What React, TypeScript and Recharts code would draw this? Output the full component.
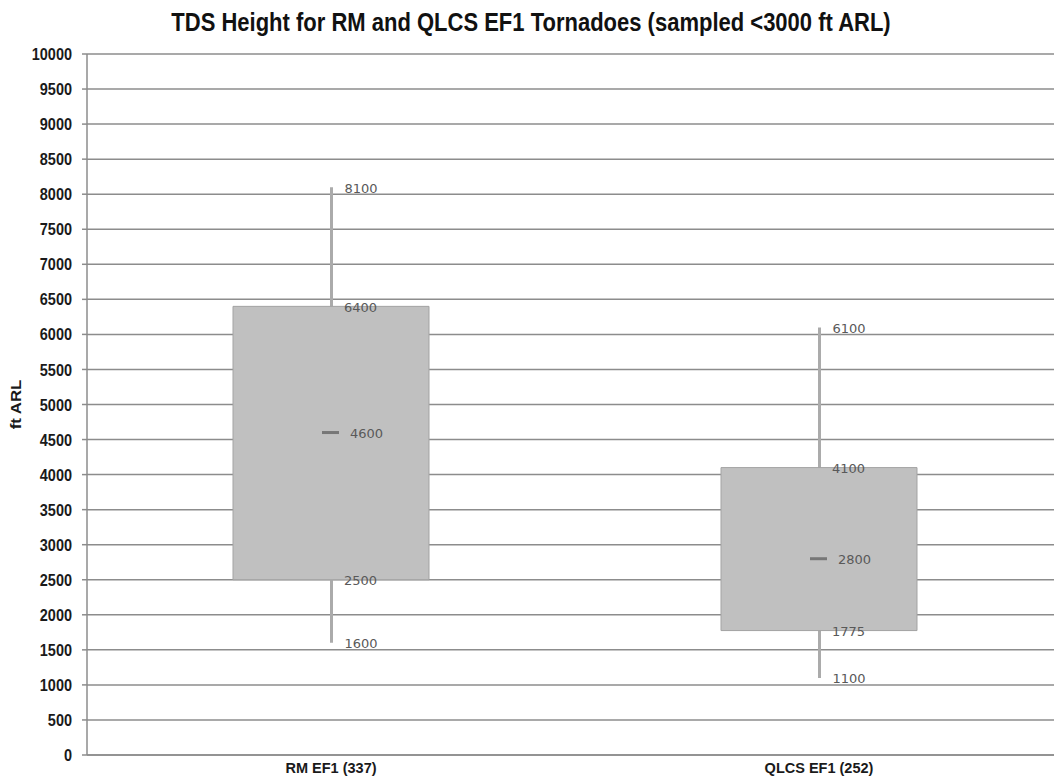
import React from "react";
import {
  ComposedChart,
  Bar,
  Scatter,
  XAxis,
  YAxis,
  CartesianGrid,
  LabelList,
} from "recharts";

const categories = ["RM EF1 (337)", "QLCS EF1 (252)"];
const minValues = [1600, 1100];
const q1Values = [2500, 1775];
const medianValues = [4600, 2800];
const q3Values = [6400, 4100];
const maxValues = [8100, 6100];
const yTicks = [
  0, 500, 1000, 1500, 2000, 2500, 3000, 3500, 4000, 4500, 5000,
  5500, 6000, 6500, 7000, 7500, 8000, 8500, 9000, 9500, 10000,
];

const data = categories.map((name, i) => ({
  name,
  whisker: [minValues[i], maxValues[i]],
  box: [q1Values[i], q3Values[i]],
  median: medianValues[i],
}));

const GRID = "#8c8c8c";
const LABEL_FONT = "'DejaVu Sans', Verdana, sans-serif";
const AXIS_FONT = "'Liberation Sans', Arial, sans-serif";

// labels for the two ends of a ranged bar: high at the top, low at the bottom
function rangeLabels(lows: number[], highs: number[]) {
  return (p: any) => {
    const { x, y, width, height, index } = p;
    const cx = Number(x) + Number(width) / 2;
    const hi = highs[index];
    const lo = lows[index];
    return (
      <g>
        <text x={cx + 13} y={Number(y) + 1} dominantBaseline="central" fontSize={13} fontFamily={LABEL_FONT} fill="#595959">
          {hi}
        </text>
        <text x={cx + 13} y={Number(y) + Number(height) + 1} dominantBaseline="central" fontSize={13} fontFamily={LABEL_FONT} fill="#595959">
          {lo}
        </text>
      </g>
    );
  };
}

function MedianMark(props: any) {
  const { cx, cy, payload } = props;
  return (
    <g>
      <rect x={cx - 9} y={cy - 1.5} width={17} height={3} fill="#777777" />
      <text x={cx + 19} y={cy + 1} dominantBaseline="central" fontSize={13} fontFamily={LABEL_FONT} fill="#595959">
        {payload.median}
      </text>
    </g>
  );
}

function YTick(props: any) {
  const { x, y, payload } = props;
  return (
    <g transform={`translate(${x},${y}) scale(1,1.2)`}>
      <text x={0} y={0} dy="0.35em" textAnchor="end" fontSize={14.5} fontWeight="bold" fontFamily={AXIS_FONT} fill="#1a1a1a">
        {payload.value}
      </text>
    </g>
  );
}

function XTick(props: any) {
  const { x, y, payload } = props;
  return (
    <text x={x} y={y} dy="0.71em" textAnchor="middle" fontSize={14.5} fontWeight="bold" fontFamily={AXIS_FONT} fill="#1a1a1a">
      {payload.value}
    </text>
  );
}

export default function App() {
  return (
    <div
      style={{
        position: "absolute",
        left: 0,
        top: 0,
        width: 1054,
        height: 778,
        overflow: "hidden",
        background: "#ffffff",
      }}
    >
      <div
        style={{
          position: "absolute",
          left: 0,
          top: 10,
          width: 1062,
          textAlign: "center",
          fontFamily: AXIS_FONT,
          fontWeight: "bold",
          fontSize: 22,
          lineHeight: "22px",
          color: "#111",
          transform: "scaleY(1.14)",
          transformOrigin: "top",
          whiteSpace: "nowrap",
        }}
      >
        TDS Height for RM and QLCS EF1 Tornadoes (sampled &lt;3000 ft ARL)
      </div>
      <ComposedChart
        width={1070}
        height={778}
        data={data}
        margin={{ top: 54, right: 7, bottom: 0, left: 0 }}
      >
        <CartesianGrid
          vertical={false}
          xAxisId="main"
          stroke={GRID}
          strokeWidth={1.5}
        />
        <XAxis
          xAxisId="main"
          dataKey="name"
          height={23}
          axisLine={{ stroke: GRID, strokeWidth: 1.5 }}
          tickLine={false}
          tickSize={0}
          tickMargin={8}
          tick={<XTick />}
          interval={0}
        />
        <XAxis xAxisId="whisker" dataKey="name" hide />
        <YAxis
          domain={[0, 10000]}
          ticks={yTicks}
          interval={0}
          width={87}
          axisLine={{ stroke: GRID, strokeWidth: 1.5 }}
          tickLine={{ stroke: GRID, strokeWidth: 1.5 }}
          tickSize={5}
          tickMargin={10}
          tick={<YTick />}
          label={{
            content: (p: any) => {
              const vb = p.viewBox;
              const cy = vb.y + vb.height / 2;
              return (
                <text
                  x={0}
                  y={0}
                  transform={`translate(16,${cy}) rotate(-90) scale(1.2,1)`}
                  textAnchor="middle"
                  dominantBaseline="central"
                  fontSize={14}
                  fontWeight="bold"
                  fontFamily={AXIS_FONT}
                  fill="#1a1a1a"
                >
                  ft ARL
                </text>
              );
            },
          }}
        />
        <Bar
          xAxisId="whisker"
          dataKey="whisker"
          barSize={3}
          fill="#ababab"
          isAnimationActive={false}
        >
          <LabelList dataKey="whisker" content={rangeLabels(minValues, maxValues)} />
        </Bar>
        <Bar
          xAxisId="main"
          dataKey="box"
          barSize={196}
          fill="#c0c0c0"
          stroke="#a3a3a3"
          strokeWidth={1}
          isAnimationActive={false}
        >
          <LabelList dataKey="box" content={rangeLabels(q1Values, q3Values)} />
        </Bar>
        <Scatter
          xAxisId="main"
          dataKey="median"
          shape={<MedianMark />}
          isAnimationActive={false}
        />
      </ComposedChart>
    </div>
  );
}
